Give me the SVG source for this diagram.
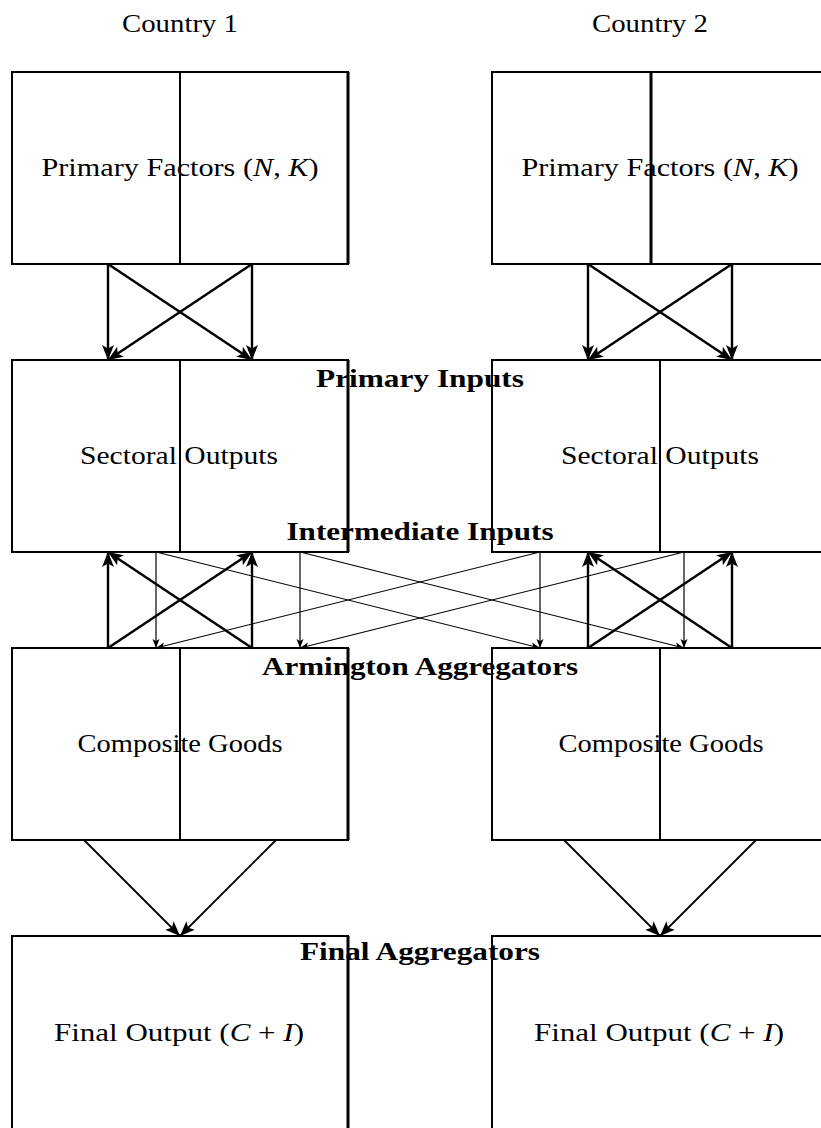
<svg xmlns="http://www.w3.org/2000/svg" width="821" height="1128" viewBox="0 0 821 1128">
<style>
.box{fill:none;stroke:#000;stroke-width:2}
.div{stroke:#000;stroke-width:2}
.edge{stroke:#000;stroke-width:3}
.lbl{font-family:"Liberation Serif","Times New Roman",serif;font-size:26px;fill:#000;text-anchor:middle}
.hdr{font-family:"Liberation Serif","Times New Roman",serif;font-size:26px;font-weight:bold;fill:#000;text-anchor:middle}
.thick{stroke:#000;stroke-width:2.4;fill:none;marker-end:url(#ah)}
.thin{stroke:#000;stroke-width:1.2;fill:none;marker-end:url(#as)}
.mid{stroke:#000;stroke-width:1.8;fill:none;marker-end:url(#ah)}
.it{font-style:italic}
</style>
<defs>
<marker id="ah" markerUnits="userSpaceOnUse" markerWidth="16" markerHeight="12" refX="15" refY="6" orient="auto" viewBox="0 0 16 12">
<path d="M0,0 L15,6 L0,12 L3.5,6 z" fill="#000"/>
</marker>
<marker id="as" markerUnits="userSpaceOnUse" markerWidth="10" markerHeight="8" refX="9" refY="4" orient="auto" viewBox="0 0 10 8">
<path d="M0,0.5 L9,4 L0,7.5 L2,4 z" fill="#000"/>
</marker>
</defs>
<rect width="821" height="1128" fill="#fff"/>

<text class="lbl" x="180" y="32" textLength="116" lengthAdjust="spacingAndGlyphs">Country 1</text>
<text class="lbl" x="650" y="32" textLength="116" lengthAdjust="spacingAndGlyphs">Country 2</text>

<g id="c1-primary-factors">
<rect class="box" x="12" y="72" width="336" height="192"/>
<line class="edge" x1="348" y1="72" x2="348" y2="264"/>
<line class="div" x1="180" y1="72" x2="180" y2="264"/>
<text class="lbl" x="180" y="176" textLength="277" lengthAdjust="spacingAndGlyphs">Primary Factors (<tspan class="it">N</tspan>, <tspan class="it">K</tspan>)</text>
</g>
<g id="c2-primary-factors">
<rect class="box" x="492" y="72" width="340" height="192"/>
<line class="edge" x1="651" y1="72" x2="651" y2="264"/>
<text class="lbl" x="660" y="176" textLength="277" lengthAdjust="spacingAndGlyphs">Primary Factors (<tspan class="it">N</tspan>, <tspan class="it">K</tspan>)</text>
</g>
<g id="c1-sectoral-outputs">
<rect class="box" x="12" y="360" width="336" height="192"/>
<line class="edge" x1="348" y1="360" x2="348" y2="552"/>
<line class="div" x1="180" y1="360" x2="180" y2="552"/>
<text class="lbl" x="179" y="464" textLength="198" lengthAdjust="spacingAndGlyphs">Sectoral Outputs</text>
</g>
<g id="c2-sectoral-outputs">
<rect class="box" x="492" y="360" width="340" height="192"/>
<line class="div" x1="660" y1="360" x2="660" y2="552"/>
<text class="lbl" x="660" y="464" textLength="198" lengthAdjust="spacingAndGlyphs">Sectoral Outputs</text>
</g>
<g id="c1-composite-goods">
<rect class="box" x="12" y="648" width="336" height="192"/>
<line class="edge" x1="348" y1="648" x2="348" y2="840"/>
<line class="div" x1="180" y1="648" x2="180" y2="840"/>
<text class="lbl" x="180" y="752" textLength="205" lengthAdjust="spacingAndGlyphs">Composite Goods</text>
</g>
<g id="c2-composite-goods">
<rect class="box" x="492" y="648" width="340" height="192"/>
<line class="div" x1="660" y1="648" x2="660" y2="840"/>
<text class="lbl" x="661" y="752" textLength="205" lengthAdjust="spacingAndGlyphs">Composite Goods</text>
</g>
<g id="c1-final-output">
<rect class="box" x="12" y="936" width="336" height="200"/>
<line class="edge" x1="348" y1="936" x2="348" y2="1136"/>
<text class="lbl" x="179" y="1041" textLength="250" lengthAdjust="spacingAndGlyphs">Final Output (<tspan class="it">C</tspan> + <tspan class="it">I</tspan>)</text>
</g>
<g id="c2-final-output">
<rect class="box" x="492" y="936" width="340" height="200"/>
<text class="lbl" x="659" y="1041" textLength="250" lengthAdjust="spacingAndGlyphs">Final Output (<tspan class="it">C</tspan> + <tspan class="it">I</tspan>)</text>
</g>

<g id="connectors">
<line class="thick" x1="108" y1="264" x2="108" y2="360"/>
<line class="thick" x1="252" y1="264" x2="252" y2="360"/>
<line class="thick" x1="108" y1="264" x2="252" y2="360"/>
<line class="thick" x1="252" y1="264" x2="108" y2="360"/>
<line class="thick" x1="588" y1="264" x2="588" y2="360"/>
<line class="thick" x1="732" y1="264" x2="732" y2="360"/>
<line class="thick" x1="588" y1="264" x2="732" y2="360"/>
<line class="thick" x1="732" y1="264" x2="588" y2="360"/>

<line class="thick" x1="108" y1="648" x2="108" y2="552"/>
<line class="thick" x1="252" y1="648" x2="252" y2="552"/>
<line class="thick" x1="108" y1="648" x2="252" y2="552"/>
<line class="thick" x1="252" y1="648" x2="108" y2="552"/>
<line class="thick" x1="588" y1="648" x2="588" y2="552"/>
<line class="thick" x1="732" y1="648" x2="732" y2="552"/>
<line class="thick" x1="588" y1="648" x2="732" y2="552"/>
<line class="thick" x1="732" y1="648" x2="588" y2="552"/>

<line class="thin" x1="156" y1="552" x2="156" y2="648"/>
<line class="thin" x1="300" y1="552" x2="300" y2="648"/>
<line class="thin" x1="540" y1="552" x2="540" y2="648"/>
<line class="thin" x1="684" y1="552" x2="684" y2="648"/>
<line class="thin" x1="156" y1="552" x2="540" y2="648"/>
<line class="thin" x1="300" y1="552" x2="684" y2="648"/>
<line class="thin" x1="540" y1="552" x2="156" y2="648"/>
<line class="thin" x1="684" y1="552" x2="300" y2="648"/>

<line class="mid" x1="84" y1="840" x2="180" y2="936"/>
<line class="mid" x1="276" y1="840" x2="180" y2="936"/>
<line class="mid" x1="564" y1="840" x2="660" y2="936"/>
<line class="mid" x1="756" y1="840" x2="660" y2="936"/>
</g>

<text class="hdr" x="420" y="387" textLength="208" lengthAdjust="spacingAndGlyphs">Primary Inputs</text>
<text class="hdr" x="420" y="540" textLength="267" lengthAdjust="spacingAndGlyphs">Intermediate Inputs</text>
<text class="hdr" x="420" y="675" textLength="316" lengthAdjust="spacingAndGlyphs">Armington Aggregators</text>
<text class="hdr" x="420" y="960" textLength="240" lengthAdjust="spacingAndGlyphs">Final Aggregators</text>
</svg>
